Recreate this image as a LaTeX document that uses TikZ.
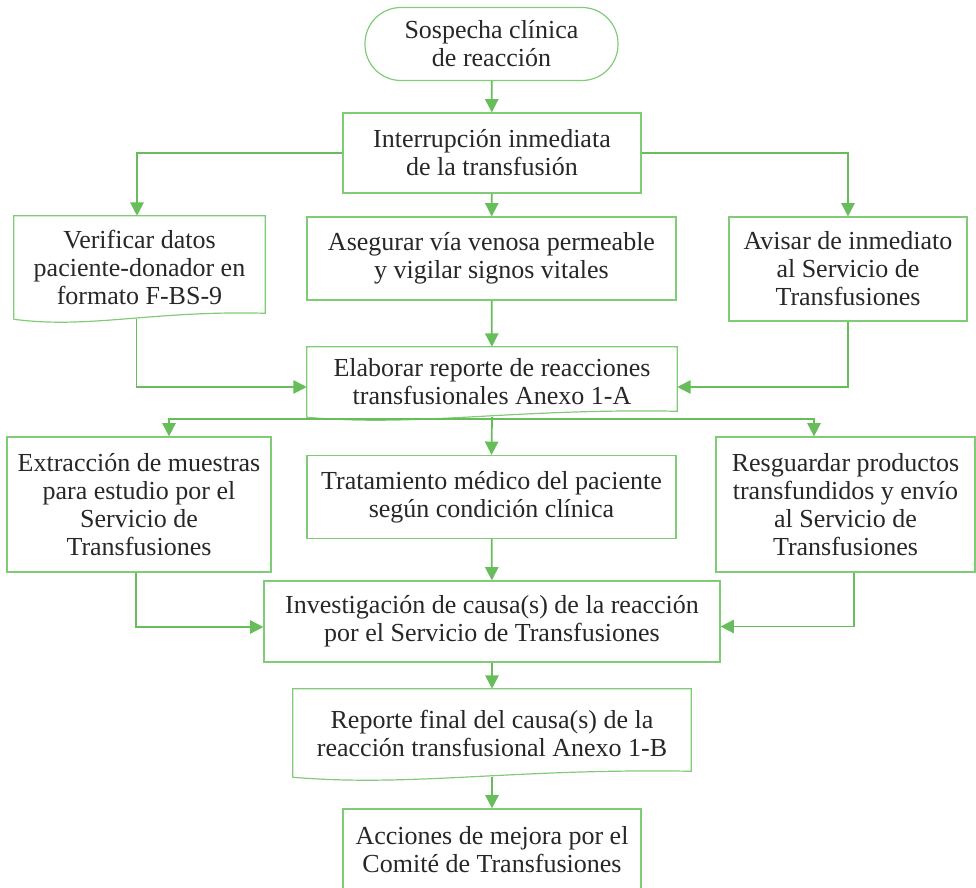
\documentclass[tikz,border=0pt]{standalone}
\usepackage{fontspec}
\setmainfont{Liberation Serif}
\usetikzlibrary{arrows.meta,calc}

\definecolor{flowline}{RGB}{102,189,90}
\definecolor{boxline}{RGB}{128,204,118}
\definecolor{ink}{RGB}{40,38,38}

\tikzset{
  bw/.style={minimum width=#1*0.75pt},
  bh/.style={minimum height=#1*0.75pt},
  txt/.style={font=\fontsize{19.5}{21}\selectfont, text=ink, align=center, inner sep=0pt},
  procbox/.style={txt, draw=boxline, line width=0.9pt, rectangle},
  termbox/.style={txt, draw=boxline, line width=0.9pt, rectangle, rounded corners=27pt},
  docbox/.style={txt, rectangle},
  docline/.style={draw=boxline, line width=0.9pt},
  conn/.style={draw=flowline, line width=1.3pt, -{Triangle[length=10pt,width=10pt]}},
  plain/.style={draw=flowline, line width=1.3pt},
}

% outline of a document symbol: straight top and sides, wavy bottom
\newcommand{\docoutline}[1]{%
  \path let \p1=(#1.south west), \p2=(#1.south east) in
    \pgfextra{\pgfmathsetmacro{\docw}{(\x2-\x1)/0.75}}
    [docline] (#1.south west) -- (#1.north west) -- (#1.north east)
    -- ($(#1.south east)+(0,-6)$)
    .. controls ($(#1.south east)+(-0.45*\docw,-9)$)
           and ($(#1.south west)+(0.3*\docw,10)$) .. (#1.south west);
}

\begin{document}
\begin{tikzpicture}[x=0.75pt, y=-0.75pt]
\useasboundingbox (0,0) rectangle (976,888);

% nodes
\node[termbox, bw=253, bh=73] (start) at (491.5,44) {Sospecha clínica\\de reacción};
\node[procbox, bw=298, bh=80] (interr) at (492,153) {Interrupción inmediata\\de la transfusión};
\node[docbox, bw=251, bh=103] (verif) at (139.5,267.5) {Verificar datos\\paciente-donador en\\formato F-BS-9};
\node[procbox, bw=369, bh=83] (aseg) at (491.5,258.5) {Asegurar vía venosa permeable\\y vigilar signos vitales};
\node[procbox, bw=238, bh=104] (avisar) at (848,269) {Avisar de inmediato\\al Servicio de\\Transfusiones};
\node[docbox, bw=370, bh=70] (elab) at (492,382) {Elaborar reporte de reacciones\\transfusionales Anexo 1-A};
\node[procbox, bw=264, bh=135] (extr) at (139,504.5) {Extracción de muestras\\para estudio por el\\Servicio de\\Transfusiones};
\node[procbox, bw=369, bh=83] (trat) at (491.5,497) {Tratamiento médico del paciente\\según condición clínica};
\node[procbox, bw=259, bh=135] (resg) at (845.5,504.5) {Resguardar productos\\transfundidos y envío\\al Servicio de\\Transfusiones};
\node[procbox, bw=456, bh=81] (inv) at (492,621.5) {Investigación de causa(s) de la reacción\\por el Servicio de Transfusiones};
\node[docbox, bw=398, bh=88] (rep) at (492,733) {Reporte final del causa(s) de la\\reacción transfusional Anexo 1-B};
\node[procbox, bw=298, bh=82] (acc) at (492,850) {Acciones de mejora por el\\Comité de Transfusiones};

\docoutline{verif}
\docoutline{elab}
\docoutline{rep}

% connectors
\draw[conn] (start) -- (interr);
\draw[conn] (interr.west) -| ($(verif.north)+(-2.5,0)$);
\draw[conn] (interr.east) -| (avisar.north);
\draw[conn] (interr) -- (aseg);
\draw[conn] ($(verif.south)+(-3,0)$) |- ($(elab.west)+(0,5)$);
\draw[conn] (avisar.south) |- ($(elab.east)+(0,5)$);
\draw[conn] (aseg) -- (elab);

\coordinate (br) at ($(elab.south)+(0,2)$);
\draw[plain] (elab.south) -- (br);
\draw[conn] (br) -| ($(extr.north)+(30,0)$);
\draw[conn] (br) -| ($(resg.north)+(-31.5,0)$);
\draw[conn] (br) -- (trat.north);

\draw[conn] ($(extr.south)+(-3,0)$) |- ($(inv.west)+(0,5.5)$);
\draw[conn] ($(resg.south)+(8.5,0)$) |- ($(inv.east)+(0,5)$);
\draw[conn] (trat) -- (inv);
\draw[conn] (inv) -- (rep);
\draw[conn] (rep.south) -- (acc.north);
\end{tikzpicture}
\end{document}
